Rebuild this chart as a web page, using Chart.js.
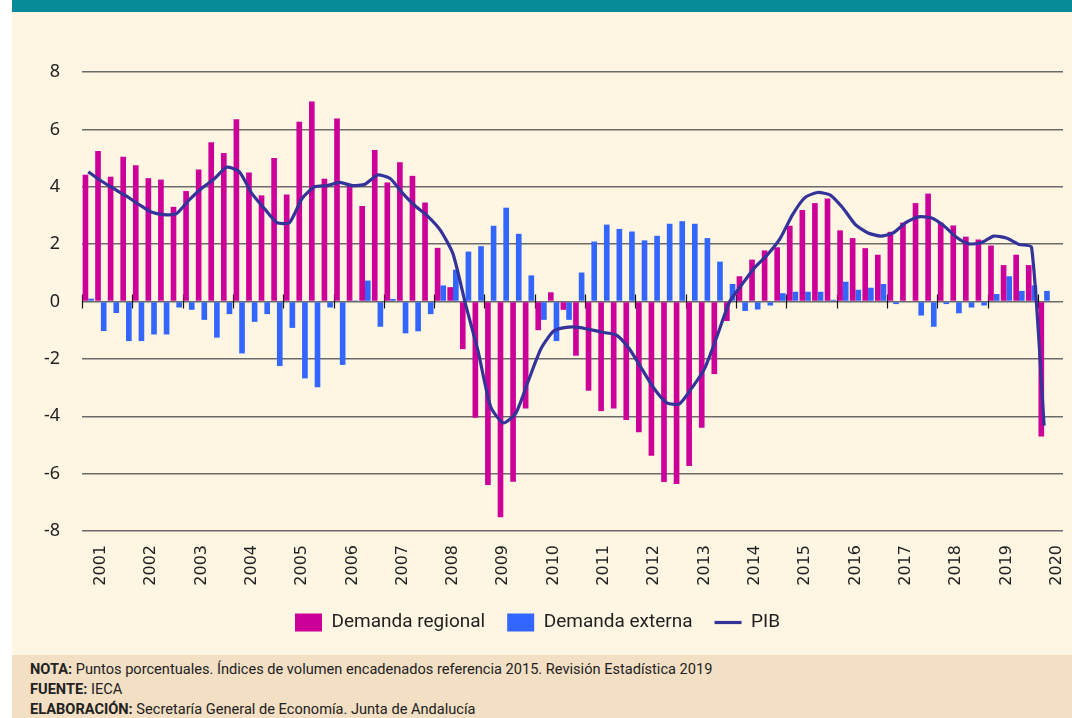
<!DOCTYPE html>
<html>
<head>
<meta charset="utf-8">
<script src="https://cdn.jsdelivr.net/npm/chart.js@4"></script>
<style>
  html, body { margin: 0; padding: 0; background: #fff; }
  #page { position: relative; width: 1072px; height: 718px; overflow: hidden; }
  #band { position: absolute; left: 12px; top: 0; width: 1060px; height: 12px; background: #078b99; }
  #panel { position: absolute; left: 12px; top: 12px; width: 1060px; height: 643px; background: #fef6e3; }
  #wrap { position: absolute; left: 12px; top: 12px; width: 1060px; height: 640px; }
  #foot {
    position: absolute; left: 12px; top: 655px; width: 1060px; height: 63px;
    background: #f2dfc4; color: #222; box-sizing: border-box; padding: 4px 0 0 18px;
    font-family: "Liberation Sans Narrow", "Roboto", sans-serif; font-size: 14.6px; line-height: 20px;
  }
  #foot b { font-weight: bold; }
</style>
</head>
<body>
<div id="page">
  <div id="band"></div>
  <div id="panel"></div>
  <div id="wrap"><canvas id="chart"></canvas></div>
  <div id="foot">
    <div><b>NOTA:</b> Puntos porcentuales. Índices de volumen encadenados referencia 2015. Revisión Estadística 2019</div>
    <div><b>FUENTE:</b> IECA</div>
    <div><b>ELABORACIÓN:</b> Secretaría General de Economía. Junta de Andalucía</div>
  </div>
</div>
<script>
// Quarterly contributions to growth, 2001 T1 - 2020 T1 (axis runs to 2020 T2)
const years = ["2001", "2002", "2003", "2004", "2005", "2006", "2007", "2008", "2009", "2010",
  "2011", "2012", "2013", "2014", "2015", "2016", "2017", "2018", "2019", "2020"]
const quarterNames = ["T1", "T2", "T3", "T4"]

const demandaRegional = [
  4.42, 5.25, 4.35, 5.05,   4.75, 4.30, 4.25, 3.30,   3.85, 4.60, 5.55, 5.18,
  6.35, 4.50, 3.70, 5.00,   3.73, 6.27, 6.97, 4.28,   6.38, 4.02, 3.33, 5.28,
  4.15, 4.85, 4.38, 3.45,   1.87, 0.50, -1.66, -4.05, -6.40, -7.52, -6.28, -3.73,
  -1.00, 0.32, -0.29, -1.89, -3.11, -3.82, -3.73, -4.13, -4.56, -5.38, -6.29, -6.36,
  -5.73, -4.40, -2.53, -0.68, 0.88, 1.46, 1.78, 1.89,  2.64, 3.19, 3.43, 3.59,
  2.48, 2.21, 1.86, 1.63,   2.43, 2.75, 3.43, 3.76,   2.75, 2.65, 2.26, 2.16,
  1.95, 1.27, 1.63, 1.27,   -4.71
]

const demandaExterna = [
  0.10, -1.03, -0.40, -1.38, -1.38, -1.15, -1.15, -0.21, -0.29, -0.64, -1.26, -0.44,
  -1.81, -0.71, -0.44, -2.25, -0.92, -2.68, -2.99, -0.21, -2.21, 0.04, 0.73, -0.88,
  0.09, -1.11, -1.04, -0.44, 0.56, 1.11, 1.74, 1.93,   2.64, 3.27, 2.36, 0.91,
  -0.64, -1.38, -0.64, 1.01, 2.09, 2.68, 2.53, 2.44,   2.13, 2.29, 2.71, 2.80,
  2.71, 2.21, 1.39, 0.61,   -0.33, -0.28, -0.14, 0.29, 0.34, 0.34, 0.34, 0.06,
  0.69, 0.41, 0.48, 0.61,   -0.09, 0.00, -0.49, -0.88, -0.09, -0.41, -0.21, -0.14,
  0.26, 0.88, 0.37, 0.56,   0.37
]

const pib = [
  4.52, 4.21, 3.94, 3.68,   3.39, 3.12, 3.03, 3.06,   3.53, 3.94, 4.27, 4.68,
  4.53, 3.77, 3.24, 2.75,   2.75, 3.59, 4.00, 4.04,   4.15, 4.04, 4.09, 4.41,
  4.29, 3.77, 3.33, 2.97,   2.48, 1.66, -0.10, -1.75, -3.68, -4.23, -3.89, -2.75,
  -1.64, -1.03, -0.90, -0.90, -0.99, -1.08, -1.17, -1.64, -2.34, -3.04, -3.53, -3.57,
  -3.01, -2.34, -1.20, 0.00, 0.61, 1.19, 1.63, 2.19,   3.03, 3.63, 3.80, 3.71,
  3.26, 2.68, 2.39, 2.28,   2.39, 2.75, 2.95, 2.92,   2.65, 2.25, 2.01, 2.05,
  2.28, 2.21, 1.99, 1.89,   -4.33
]

// 78 category slots: 2001 T1 .. 2020 T2
const quarterLabels = years.flatMap((y) => quarterNames.map((q) => y + " " + q)).slice(0, 78)

const PINK = "#cc0099"
const BLUE = "#3366ff"
const NAVY = "#333399"
const GRID = "#6a6a6a"
const TEXT = "#1f1f1f"

// Small cross ticks on the zero line at each year boundary
const yearTicks = {
  id: "yearTicks",
  beforeDatasetsDraw(chart) {
    const { ctx, scales: { x, y } } = chart
    const y0 = y.getPixelForValue(0)
    const half = (x.getPixelForValue(1) - x.getPixelForValue(0)) / 2
    ctx.save()
    ctx.strokeStyle = "#111"
    ctx.lineWidth = 1.2
    for (let i = 0; i < quarterLabels.length; i += 4) {
      const px = Math.round(x.getPixelForValue(i) - half) + 0.5
      ctx.beginPath()
      ctx.moveTo(px, y0 - 7)
      ctx.lineTo(px, y0 + 7)
      ctx.stroke()
    }
    ctx.restore()
  }
}

new Chart(document.getElementById("chart"), {
  type: "bar",
  plugins: [yearTicks],
  data: {
    labels: quarterLabels,
    datasets: [
      {
        label: "Demanda regional",
        data: demandaRegional,
        backgroundColor: PINK,
        borderWidth: 0,
        pointStyle: "rect",
        categoryPercentage: 0.9,
        barPercentage: 1.0,
        order: 1
      },
      {
        label: "Demanda externa",
        data: demandaExterna,
        backgroundColor: BLUE,
        borderWidth: 0,
        pointStyle: "rect",
        categoryPercentage: 0.9,
        barPercentage: 1.0,
        order: 1
      },
      {
        type: "line",
        label: "PIB",
        data: pib,
        borderColor: NAVY,
        backgroundColor: NAVY,
        borderWidth: 3.2,
        pointRadius: 0,
        pointStyle: "line",
        tension: 0.2,
        fill: false,
        order: 0
      }
    ]
  },
  options: {
    responsive: true,
    maintainAspectRatio: false,
    animation: false,
    layout: { padding: { top: 60, right: 9, left: 0, bottom: 10 } },
    plugins: {
      tooltip: { enabled: false },
      legend: {
        position: "bottom",
        labels: {
          usePointStyle: true,
          pointStyleWidth: 27,
          boxHeight: 18,
          padding: 22,
          color: TEXT,
          font: { family: "Liberation Sans Narrow, Roboto, sans-serif", size: 19 },
          sort: (a, b) => a.datasetIndex - b.datasetIndex
        }
      }
    },
    scales: {
      x: {
        type: "category",
        offset: true,
        grid: { display: false },
        border: { display: false },
        ticks: {
          autoSkip: false,
          minRotation: 90,
          maxRotation: 90,
          padding: 6,
          color: TEXT,
          font: { family: "DejaVu Sans", size: 16 },
          // year label sits on the second quarter of each year
          callback: (v, i) => (i % 4 === 1 ? quarterLabels[i].slice(0, 4) : "")
        },
        afterFit: (axis) => {
          axis.height = 60
          axis.paddingLeft = 0
          axis.paddingRight = 0
        }
      },
      y: {
        min: -8,
        max: 8,
        ticks: {
          stepSize: 2,
          padding: 22,
          color: TEXT,
          font: { family: "Noto Sans", size: 18 }
        },
        grid: { color: GRID, lineWidth: 1.5, drawTicks: false },
        border: { display: false },
        afterFit: (axis) => { axis.width = 70 }
      }
    }
  }
})
</script>
</body>
</html>
